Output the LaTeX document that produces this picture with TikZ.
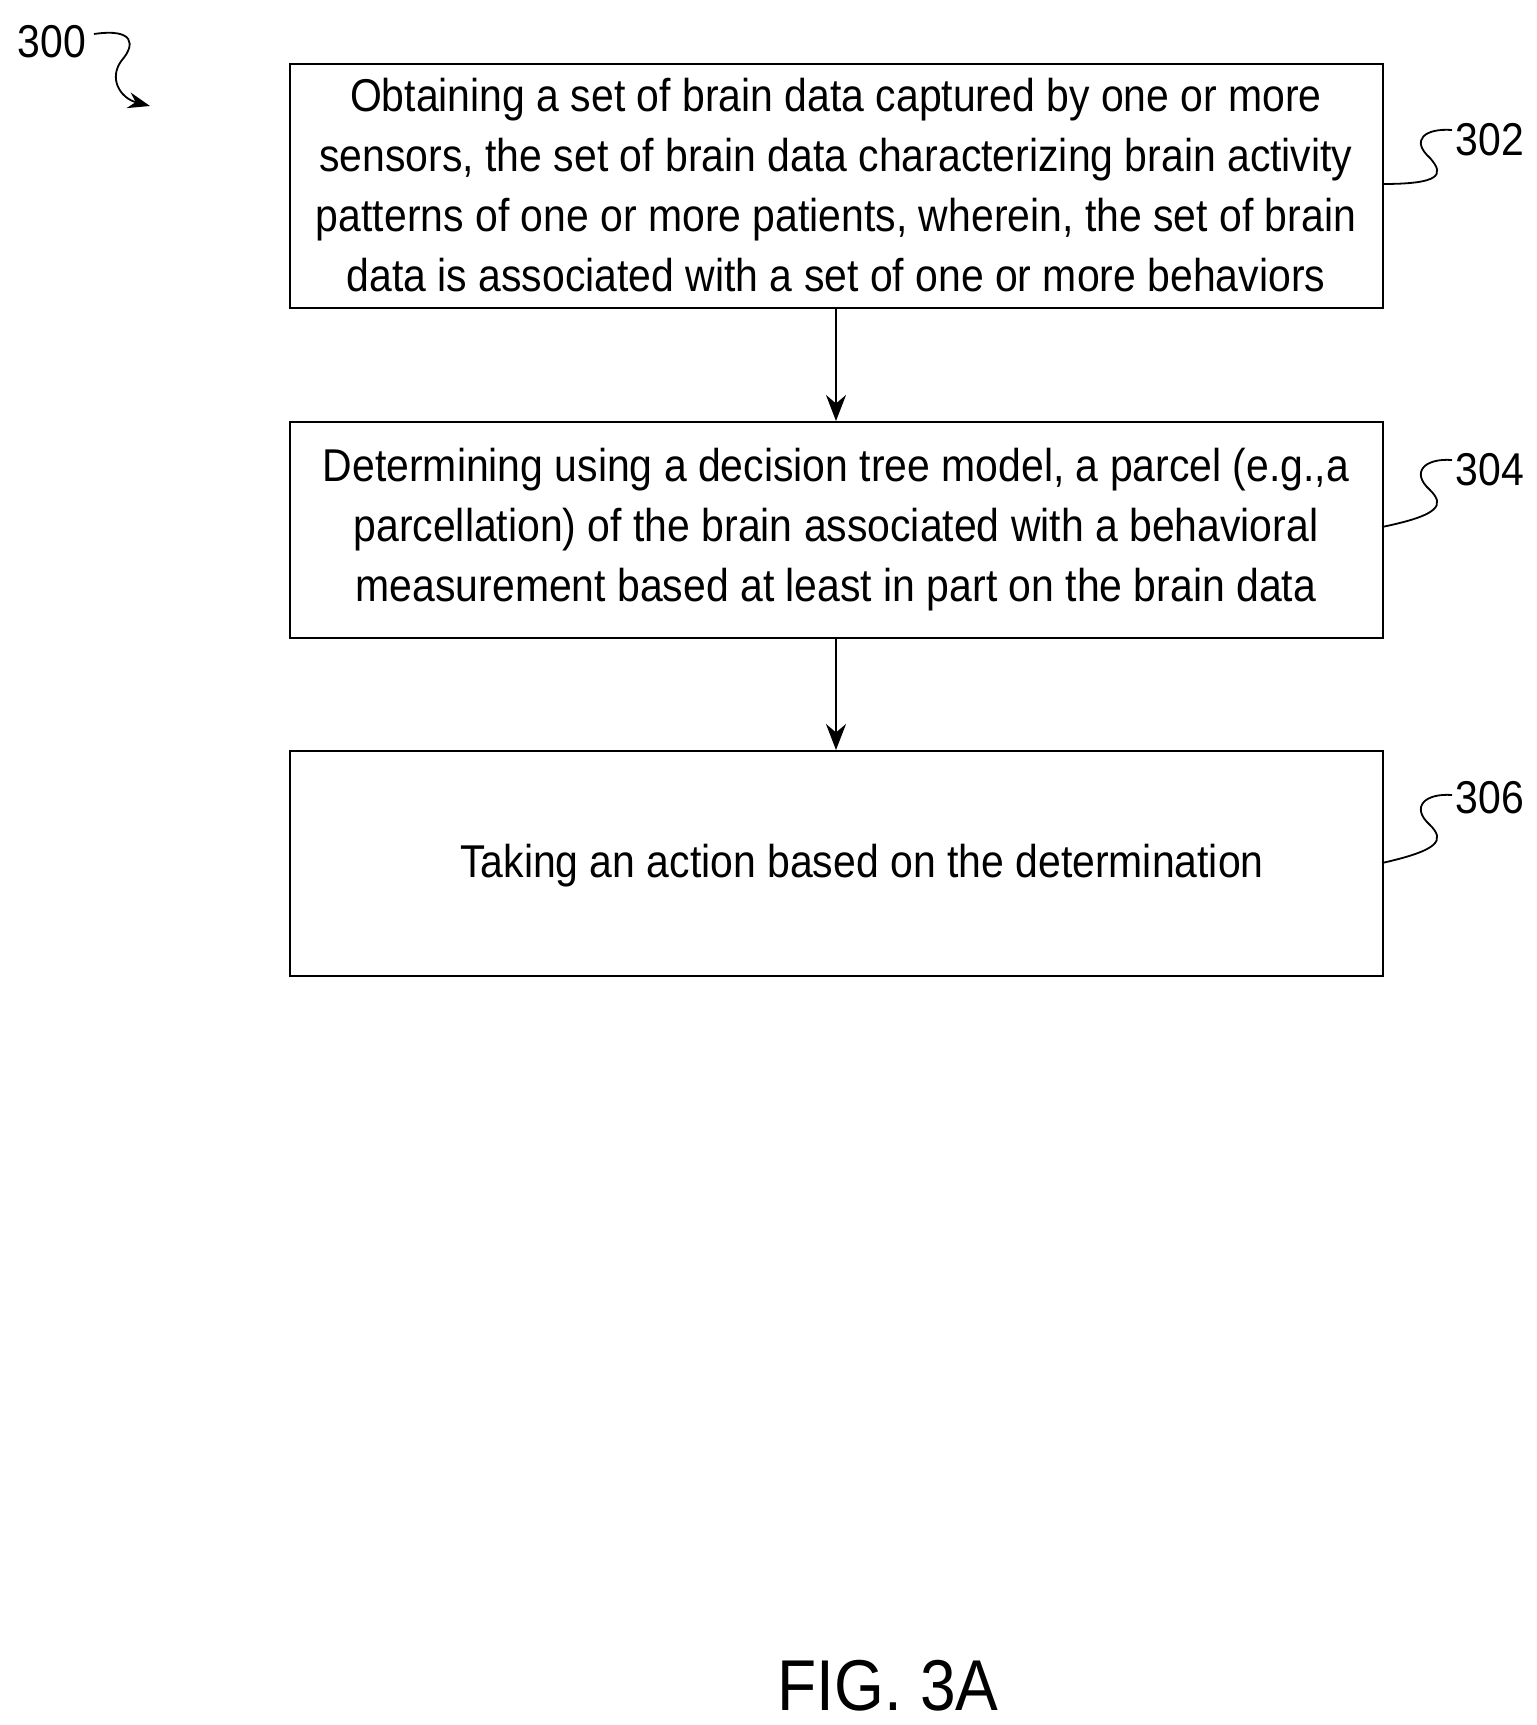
\documentclass[tikz,border=0pt]{standalone}
\usepackage{fontspec}
\setmainfont{Liberation Sans}[FakeStretch=0.89]
\usetikzlibrary{arrows.meta}
\begin{document}
\begin{tikzpicture}[x=1pt,y=-1pt,
  box/.style={draw,line width=2.2pt,minimum width=1093pt,anchor=north west,inner sep=0pt},
  txt/.style={font=\fontsize{46}{60}\selectfont,align=center},
  arr/.style={line width=2.2pt,-{Stealth[length=26pt,width=20pt]}},
  lead/.style={line width=1.8pt},
  lbl/.style={font=\fontsize{46}{50}\selectfont,anchor=west}]
\useasboundingbox (0,0) rectangle (1537,1725);
\node[box,minimum height=244pt] (b1) at (289,63) {};
\node[txt] (t1) at (836,185) {Obtaining a set of brain data captured by one or more\\sensors, the set of brain data characterizing brain activity\\patterns of one or more patients, wherein, the set of brain\\data is associated with a set of one or more behaviors};
\node[box,minimum height=216pt] (b2) at (289,421) {};
\node[txt] (t2) at (836,530) {Determining using a decision tree model, a parcel (e.g.,a\\parcellation) of the brain associated with a behavioral\\measurement based at least in part on the brain data};
\node[box,minimum height=225pt] (b3) at (289,750) {};
\node[txt] (t3) at (862,866) {Taking an action based on the determination};
\draw[arr] (b1.south -| 836,0) -- (b2.north -| 836,0);
\draw[arr] (b2.south -| 836,0) -- (b3.north -| 836,0);
\node[lbl] (l302) at (1452,140) {302};
\node[lbl] (l304) at (1452,470) {304};
\node[lbl] (l306) at (1452,798) {306};
\node[lbl] (l300) at (14,42) {300};
\draw[lead] (1382,184) .. controls (1440,184) and (1445,175) .. (1430,158) .. controls (1410,140) and (1425,128) .. (1452,130);
\draw[lead] (1382,527) .. controls (1440,515) and (1445,505) .. (1430,490) .. controls (1410,472) and (1425,458) .. (1452,460);
\draw[lead] (1382,863) .. controls (1440,850) and (1445,840) .. (1430,825) .. controls (1410,807) and (1425,793) .. (1452,795);
\draw[lead,-{Stealth[length=22pt,width=16pt]}] (94,34) .. controls (135,28) and (135,45) .. (122,60) .. controls (108,78) and (120,98) .. (150,106);
\node[font=\fontsize{72}{74}\selectfont] (fig) at (888,1686) {FIG. 3A};
\end{tikzpicture}
\end{document}
